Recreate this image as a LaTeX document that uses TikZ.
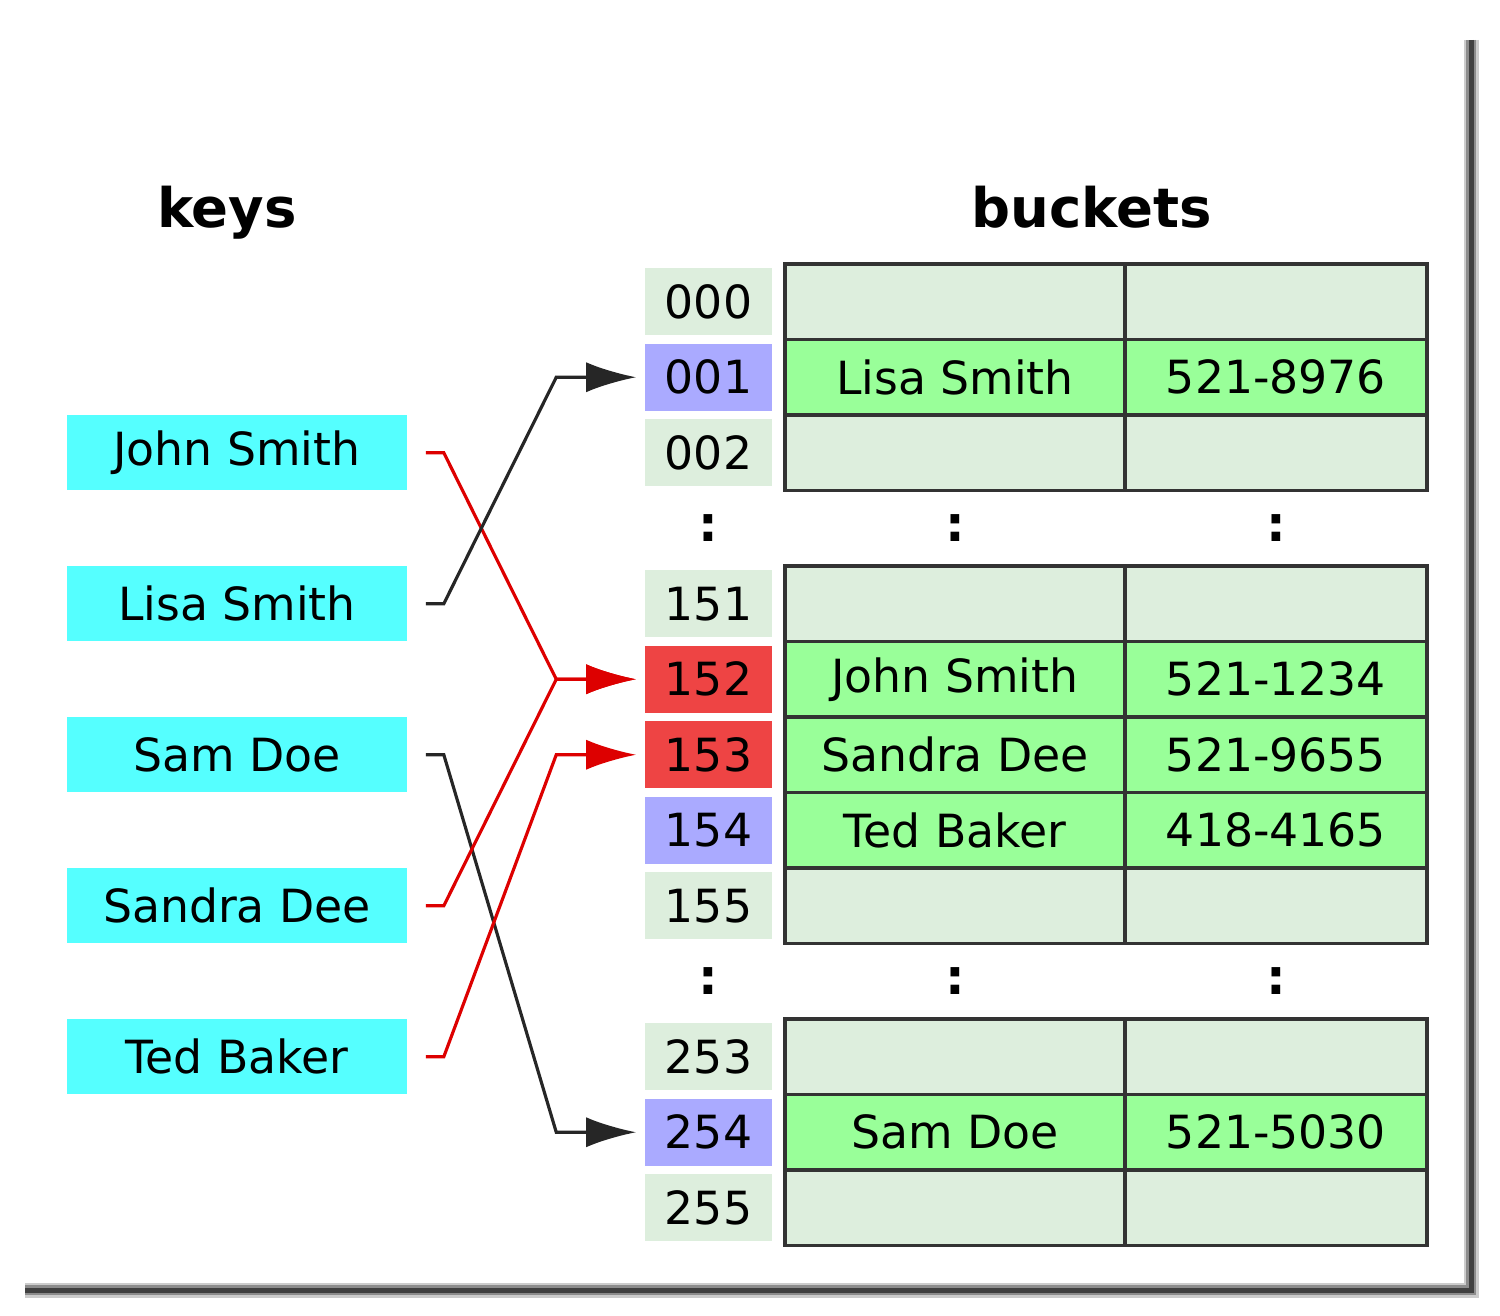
\documentclass[tikz,border=0pt]{standalone}
\usepackage{fontspec}
\setmainfont{DejaVu Sans}
\usetikzlibrary{arrows.meta,calc}

\definecolor{keycyan}{HTML}{55FFFF}
\definecolor{slotgray}{HTML}{DDEEDD}
\definecolor{slotfull}{HTML}{99FF99}
\definecolor{slotblue}{HTML}{AAAAFF}
\definecolor{slotred}{HTML}{EE4444}
\definecolor{linkred}{HTML}{DD0000}

\begin{document}
\begin{tikzpicture}[x=0.01cm,y=-0.01cm,
  every node/.style={font=\fontsize{13}{16}\selectfont},
  key/.style={fill=keycyan,minimum width=3.4cm,minimum height=0.75cm,inner sep=0pt},
  slot/.style={fill=slotgray,minimum width=1.27cm,minimum height=0.67cm,inner sep=0pt},
  namecell/.style={draw=black!80,line width=1pt,minimum width=3.4cm,minimum height=0.755cm,inner sep=0pt},
  telcell/.style={draw=black!80,line width=1pt,minimum width=3.02cm,minimum height=0.755cm,inner sep=0pt},
  head/.style={font=\bfseries\fontsize{15.5}{18}\selectfont,anchor=base},
  link/.style={line width=0.9pt,-{Latex[length=5mm,width=3mm]}}]
\useasboundingbox (0,0) rectangle (1500,1316);

% page shadow
\coordinate (pgtr) at (1471,40);
\coordinate (pgbr) at (1471,1290);
\coordinate (pgbl) at (25,1290);
\foreach \w/\c in {0.15cm/black!20,0.1cm/black!45,0.05cm/black!75}
  \draw[line width=\w,\c] (pgtr) -- (pgbr) -- (pgbl);

\node[head] (keys) at (227,228) {keys};
\node[head] (buckets) at (1092,228) {buckets};

% keys
\foreach \k/\nm/\txt in {2/john/John Smith,4/lisa/Lisa Smith,6/sam/Sam Doe,8/sandra/Sandra Dee,10/ted/Ted Baker}
  \node[key] (\nm) at (237,{301.75+75.5*\k}) {\txt};

% hash slots
\foreach \k/\n/\c in {0/000/slotgray,1/001/slotblue,2/002/slotgray,4/151/slotgray,5/152/slotred,6/153/slotred,
                      7/154/slotblue,8/155/slotgray,10/253/slotgray,11/254/slotblue,12/255/slotgray}
  \node[slot,fill=\c] (i\n) at (708.5,{301.75+75.5*\k}) {\n};

% buckets
\foreach \k in {0,2,4,8,10,12}{
  \node[namecell,fill=slotgray] (n\k) at (955,{301.75+75.5*\k}) {};
  \node[telcell,fill=slotgray] (t\k) at (1276,{301.75+75.5*\k}) {};
}
\foreach \k/\nm/\tel in {1/Lisa Smith/521-8976,5/John Smith/521-1234,6/Sandra Dee/521-9655,7/Ted Baker/418-4165,11/Sam Doe/521-5030}{
  \node[namecell,fill=slotfull] (n\k) at (955,{301.75+75.5*\k}) {\nm};
  \node[telcell,fill=slotfull] (t\k) at (1276,{301.75+75.5*\k}) {\tel};
}

% dots
\foreach \k in {3,9}
  \foreach \x/\j in {708.5/a,955/b,1276/c}
    \node[font=\bfseries\fontsize{14}{16}\selectfont] (d\k\j) at (\x,{301.75+75.5*\k}) {:};

% hash function
\foreach \a/\b/\c in {john/152/linkred,lisa/001/black!85,sam/254/black!85,sandra/152/linkred,ted/153/linkred}
  \draw[link,\c] (\a.east) ++(18,0) -- ++(18,0) -- ($(i\b.west)+(-88,0)$) -- ($(i\b.west)+(-8,0)$);
\end{tikzpicture}
\end{document}
